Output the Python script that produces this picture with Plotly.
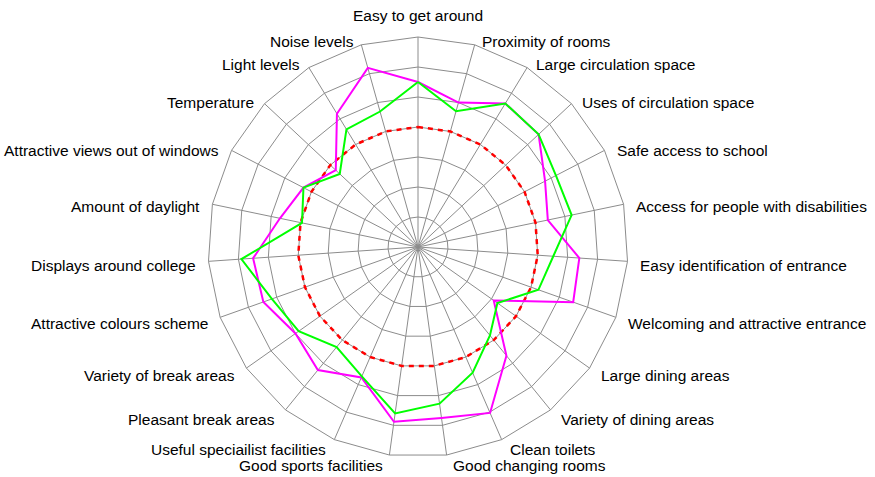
import math
import plotly.graph_objects as go

categories = [
    "Easy to get around", "Proximity of rooms", "Large circulation space",
    "Uses of circulation space", "Safe access to school",
    "Access for people with disabilities", "Easy identification of entrance",
    "Welcoming and attractive entrance", "Large dining areas",
    "Variety of dining areas", "Clean toilets", "Good changing rooms",
    "Good sports facilities", "Useful speciailist facilities",
    "Pleasant break areas", "Variety of break areas",
    "Attractive colours scheme", "Displays around college",
    "Amount of daylight", "Attractive views out of windows", "Temperature",
    "Light levels", "Noise levels",
]

series_magenta = [5.5, 5.0, 5.6, 5.5, 4.77, 4.42, 5.39, 5.49, 3.09, 4.67,
                  6.03, 5.75, 5.88, 4.74, 5.29, 5.0, 5.47, 5.51, 4.7, 4.3,
                  3.75, 5.2, 6.2]
series_green = [5.5, 4.7, 5.6, 5.5, 5.18, 5.23, 4.52, 4.26, 3.24, 3.8,
                4.57, 5.27, 5.6, 4.7, 4.3, 4.87, 5.17, 5.9, 3.95, 4.3,
                3.57, 4.59, 4.69]
series_baseline = [4] * len(categories)


def closed(values):
    return list(values) + [values[0]]


theta = closed(categories)

fig = go.Figure()
fig.add_trace(go.Scatterpolar(
    r=closed(series_baseline), theta=theta, mode="lines",
    line=dict(color="#FF0000", width=2.5, dash="5px,5px"),
    name="Baseline",
))
fig.add_trace(go.Scatterpolar(
    r=closed(series_magenta), theta=theta, mode="lines",
    line=dict(color="#FF00FF", width=2),
    name="Series 1",
))
fig.add_trace(go.Scatterpolar(
    r=closed(series_green), theta=theta, mode="lines",
    line=dict(color="#00FF00", width=2),
    name="Series 2",
))

# Category labels placed just outside each spoke of the polygon.
# The polar domain fills the plot area, so the outer ring spans paper [0, 1].
labels = []
n = len(categories)
for i, name in enumerate(categories):
    ang = 2 * math.pi * i / n
    s, c = math.sin(ang), math.cos(ang)
    x = 0.5 + 0.5 * s
    y = 0.5 + 0.5 * c
    if abs(s) < 0.05:
        labels.append(dict(x=x, y=y, text=name, xanchor="center",
                           yanchor="bottom" if c > 0 else "top",
                           yshift=11 if c > 0 else -4))
    else:
        side = 1 if s > 0 else -1
        labels.append(dict(x=x, y=y, text=name,
                           xanchor="left" if s > 0 else "right",
                           yanchor="middle",
                           xshift=side * (3 + 8 * abs(s)),
                           yshift=7.5 * c - 3.5))
for a in labels:
    a.update(xref="paper", yref="paper", showarrow=False)

grid = "#8c8c8c"
fig.update_layout(
    width=875, height=477,
    margin=dict(l=208, r=247, t=37, b=20),
    paper_bgcolor="white",
    showlegend=False,
    font=dict(family="Liberation Sans, Arial, sans-serif", size=15.5, color="#000000"),
    annotations=labels,
    polar=dict(
        bgcolor="white",
        gridshape="linear",
        radialaxis=dict(
            range=[0, 7], dtick=1, showticklabels=False, ticks="",
            showline=False, gridcolor=grid, gridwidth=1,
        ),
        angularaxis=dict(
            direction="clockwise", rotation=90, ticks="",
            showticklabels=False,
            gridcolor=grid, gridwidth=1,
            showline=True, linecolor=grid, linewidth=1,
        ),
    ),
)

fig.write_html("out.html")
